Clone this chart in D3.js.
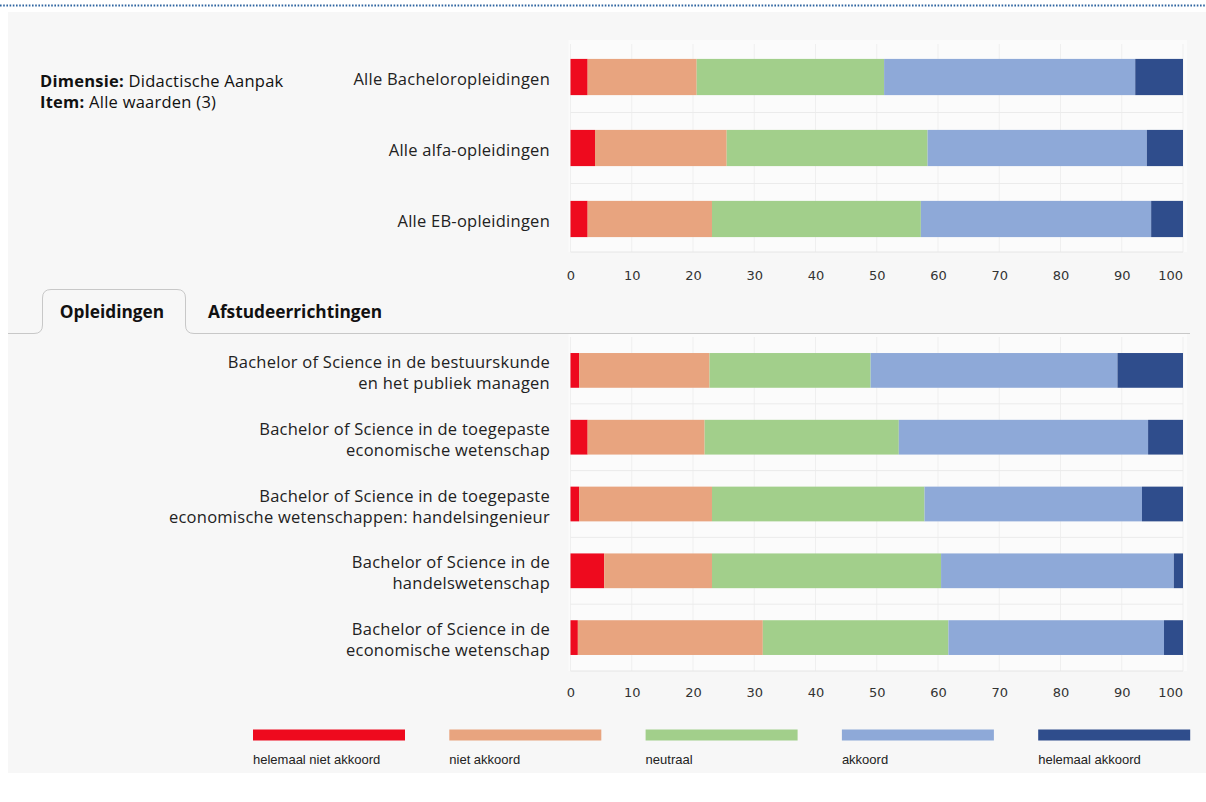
<!DOCTYPE html>
<html><head><meta charset="utf-8">
<script src="https://cdn.jsdelivr.net/npm/d3@7"></script>
<style>
html,body{margin:0;padding:0;background:#fff;}
svg{display:block;}
</style></head>
<body>
<svg id="c" width="1206" height="802"></svg>
<script>
const seriesNames = ["helemaal niet akkoord","niet akkoord","neutraal","akkoord","helemaal akkoord"];
const seriesColors = ["#ee0a1e","#e8a47f","#a2cf8b","#8ea9d8","#2f4d8c"];
const topCategories = ["Alle Bacheloropleidingen","Alle alfa-opleidingen","Alle EB-opleidingen"];
const topValues = [
  [2.8, 17.8, 30.6, 41.0, 7.8],
  [4.0, 21.5, 32.8, 35.8, 5.9],
  [2.8, 20.3, 34.1, 37.6, 5.2]
];
const bottomCategories = [
  ["Bachelor of Science in de bestuurskunde","en het publiek managen"],
  ["Bachelor of Science in de toegepaste","economische wetenschap"],
  ["Bachelor of Science in de toegepaste","economische wetenschappen: handelsingenieur"],
  ["Bachelor of Science in de","handelswetenschap"],
  ["Bachelor of Science in de","economische wetenschap"]
];
const bottomValues = [
  [1.4, 21.3, 26.3, 40.3, 10.7],
  [2.8, 19.1, 31.7, 40.7, 5.7],
  [1.4, 21.7, 34.7, 35.5, 6.7],
  [5.5, 17.6, 37.4, 38.0, 1.5],
  [1.2, 30.2, 30.3, 35.2, 3.1]
];
const tickValues = [0,10,20,30,40,50,60,70,80,90,100];
const tabLabels = ["Opleidingen","Afstudeerrichtingen"];

const svg = d3.select("#c");
const FONT = "'Open Sans', 'Noto Sans', sans-serif";
const FS = 16.5;
const LS = 0.25;

svg.append("line").attr("x1",0).attr("x2",1206).attr("y1",5.5).attr("y2",5.5)
  .attr("stroke","#2e64a0").attr("stroke-width",2).attr("stroke-dasharray","1.6,1.6");

svg.append("rect").attr("x",8).attr("y",12).attr("width",1198).attr("height",761).attr("fill","#f7f7f7");

const hdr = svg.append("text").attr("x",40).attr("y",87).attr("font-family",FONT).attr("font-size",FS).attr("letter-spacing",LS).attr("fill","#111");
hdr.append("tspan").attr("font-weight","bold").text("Dimensie:");
hdr.append("tspan").text(" Didactische Aanpak");
hdr.append("tspan").attr("x",40).attr("dy",21).attr("font-weight","bold").text("Item:");
hdr.append("tspan").text(" Alle waarden (3)");

const x = d3.scaleLinear().domain([0,100]).range([570.5,1183]);

function drawChart(cats, values, y0, y1, labelY, pInner, pOuter, multi) {
  const idx = cats.map((d,i)=>i);
  const y = d3.scaleBand().domain(idx).range([y0,y1]).paddingInner(pInner).paddingOuter(pOuter);
  const g = svg.append("g");
  g.append("rect").attr("x",x(0)-2).attr("y",y0-4).attr("width",x(100)-x(0)+6).attr("height",y1-y0+4).attr("fill","#fbfbfb");
  g.selectAll("line.v").data(tickValues).join("line")
    .attr("x1",d=>x(d)).attr("x2",d=>x(d)).attr("y1",y0).attr("y2",y1)
    .attr("stroke","#efefef").attr("stroke-width",1);
  g.selectAll("line.h").data(idx.slice(1)).join("line")
    .attr("x1",x(0)).attr("x2",x(100)).attr("y1",d=>y(d)-y.step()*pInner/2).attr("y2",d=>y(d)-y.step()*pInner/2)
    .attr("stroke","#ebebeb");
  g.append("line").attr("x1",x(0)).attr("x2",x(100)).attr("y1",y1).attr("y2",y1).attr("stroke","#e6e6e6");
  const stackData = values.map((v,i)=>{const o={i}; v.forEach((vv,k)=>o["s"+k]=vv); return o;});
  const stack = d3.stack().keys(seriesNames.map((s,k)=>"s"+k))(stackData);
  stack.forEach((layer,k)=>{
    g.selectAll(null).data(layer).join("rect")
      .attr("x",d=>x(d[0])).attr("width",d=>Math.max(0,x(d[1])-x(d[0])))
      .attr("y",d=>y(d.data.i)).attr("height",y.bandwidth())
      .attr("fill",seriesColors[k]);
  });
  cats.forEach((c,i)=>{
    const lines = multi ? c : [c];
    const cy = y(i)+y.bandwidth()/2;
    const lh = 21;
    const t = g.append("text").attr("text-anchor","end").attr("font-family",FONT).attr("font-size",FS).attr("letter-spacing",LS).attr("fill","#222");
    lines.forEach((ln,j)=>{
      t.append("tspan").attr("x",550).attr("y",cy + (j-(lines.length-1)/2)*lh + 8).text(ln);
    });
  });
  const axis = d3.axisBottom(x).tickValues(tickValues).tickSize(0).tickPadding(0);
  const ag = g.append("g").attr("transform",`translate(0,${labelY})`).call(axis);
  ag.select(".domain").remove();
  ag.selectAll("text").attr("font-family","'DejaVu Sans', Verdana, sans-serif").attr("font-size",13).attr("fill","#333").attr("dy",0)
    .attr("text-anchor",d=>d===100?"end":"middle");
  ag.selectAll(".tick").filter(d=>d===100).attr("transform",`translate(${x(100)},0)`);
}

drawChart(topCategories, topValues, 44, 252, 280, 0.49, 0.21, false);
drawChart(bottomCategories, bottomValues, 337, 671, 697, 0.48, 0.24, true);

const tabLine = "M8,333.5 H34 Q42.5,333.5 42.5,325 V298 Q42.5,289.5 51,289.5 H177 Q185.5,289.5 185.5,298 V325 Q185.5,333.5 194,333.5 H1190";
svg.append("path").attr("d",tabLine).attr("fill","none").attr("stroke","#c8c8c8").attr("stroke-width",1);
svg.append("text").attr("x",112).attr("y",318).attr("text-anchor","middle").attr("font-family",FONT).attr("font-weight","bold").attr("font-size",17.3).attr("fill","#111").text(tabLabels[0]);
svg.append("text").attr("x",208).attr("y",318).attr("font-family",FONT).attr("font-weight","bold").attr("font-size",17.3).attr("fill","#111").text(tabLabels[1]);

const lg = svg.append("g");
seriesNames.forEach((s,k)=>{
  const lx = 253 + k*196.3;
  lg.append("rect").attr("x",lx).attr("y",729.5).attr("width",152).attr("height",11).attr("fill",seriesColors[k]);
  lg.append("text").attr("x",lx).attr("y",764).attr("font-family","'Liberation Sans Narrow','Liberation Sans',sans-serif").attr("font-size",13).attr("fill","#222").text(s);
});
</script>
</body></html>
